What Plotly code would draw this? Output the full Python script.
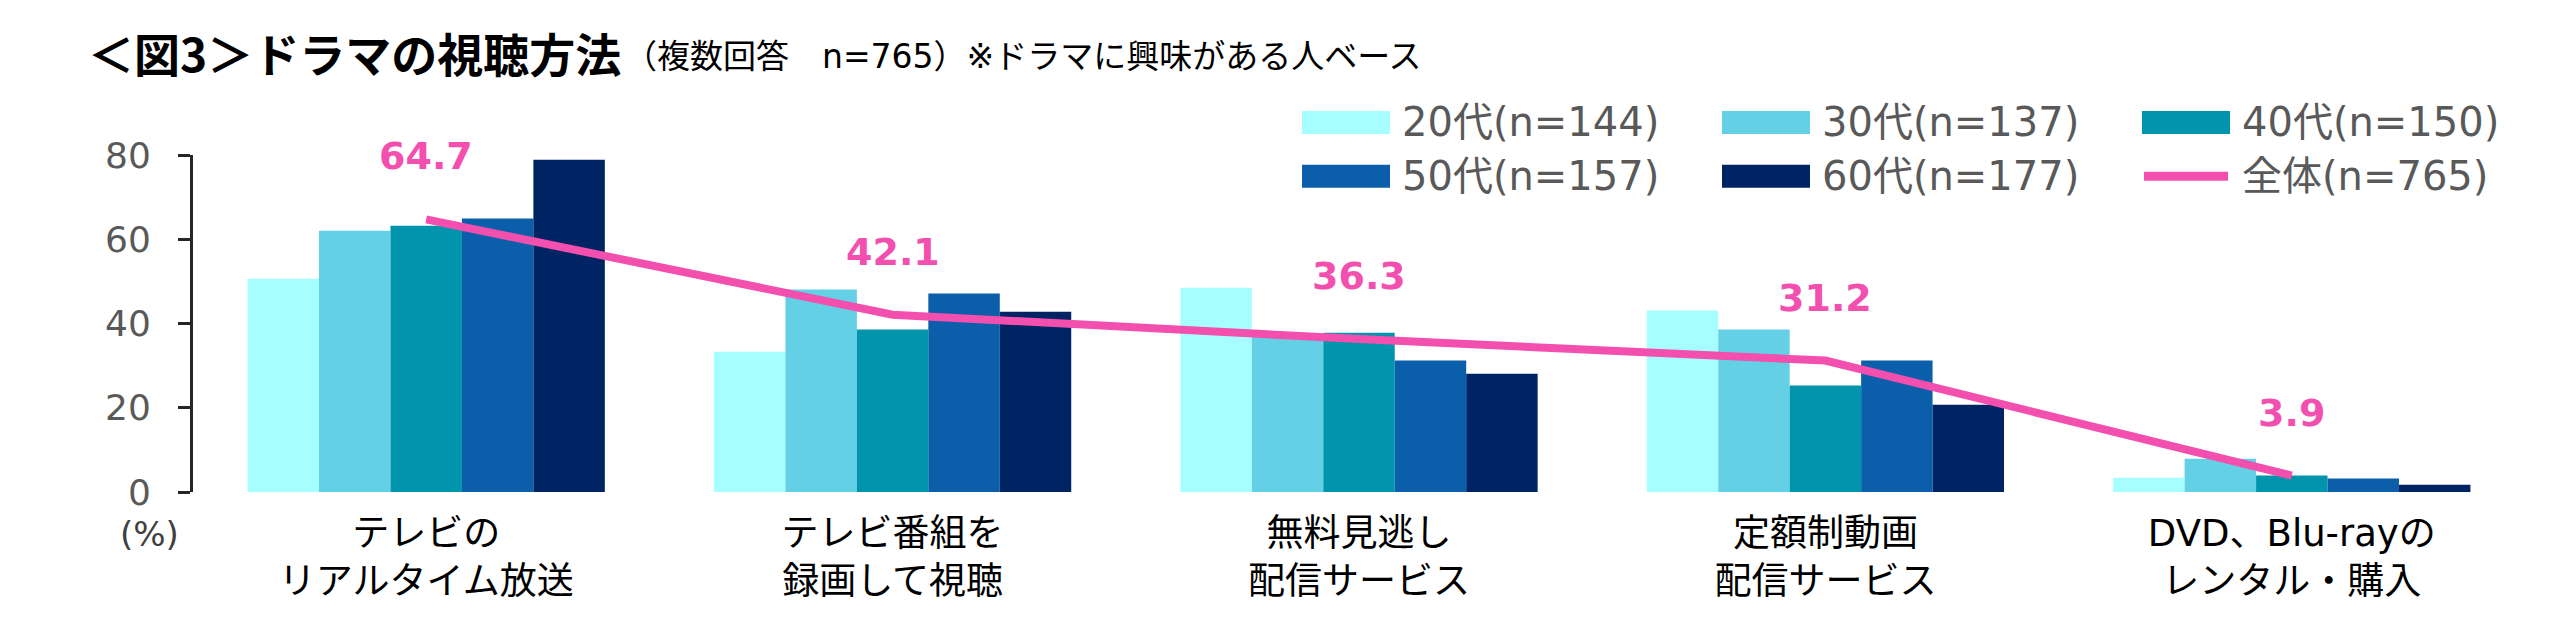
import plotly.graph_objects as go

# ---------------- data ----------------
categories = [
    "テレビの<br>リアルタイム放送",
    "テレビ番組を<br>録画して視聴",
    "無料見逃し<br>配信サービス",
    "定額制動画<br>配信サービス",
    "DVD、Blu-rayの<br>レンタル・購入",
]
series_names = ["20代(n=144)", "30代(n=137)", "40代(n=150)", "50代(n=157)", "60代(n=177)"]
age20 = [50.6, 33.3, 48.5, 43.1, 3.4]
age30 = [62.0, 48.1, 36.8, 38.6, 7.9]
age40 = [63.2, 38.6, 37.8, 25.3, 3.9]
age50 = [64.9, 47.1, 31.2, 31.2, 3.2]
age60 = [78.9, 42.8, 28.1, 20.7, 1.7]
total_name = "全体(n=765)"
total = [64.7, 42.1, 36.3, 31.2, 3.9]
y_ticks = [0, 20, 40, 60, 80]

series_values = [age20, age30, age40, age50, age60]
colors = ["#A6FFFE", "#64D0E6", "#0095AC", "#0B5FAA", "#002463"]
pink = "#F24FAF"

# ---------------- geometry ----------------
# the page body has an 8px margin, so the figure origin sits at (8, 8) on the page
OFF = 8
W, H = 2560 - OFF, 644 - OFF
L, R, T, B = 185, 35, 147, 152
PW, PH = W - L - R, H - T - B


def px(xp):
    """page x pixel -> paper x"""
    return (xp - OFF - L) / PW


def py(yp):
    """page y pixel (from top) -> paper y"""
    return (H - B - (yp - OFF)) / PH


LATIN_CJK = "DejaVu Sans, Noto Sans CJK JP, sans-serif"
CJK = "Noto Sans CJK JP, sans-serif"

fig = go.Figure()
for name, vals, c in zip(series_names, series_values, colors):
    fig.add_trace(go.Bar(x=categories, y=vals, name=name, marker=dict(color=c, line=dict(width=0)),
                         showlegend=False, hoverinfo="y"))

fig.add_trace(go.Scatter(x=categories, y=total, name=total_name, mode="lines",
                         line=dict(color=pink, width=8), showlegend=False))

annotations = []
for cat, v in zip(categories, total):
    annotations.append(dict(x=cat, y=v, xref="x", yref="y", text=f"{v}", showarrow=False,
                            yshift=63, xanchor="center", yanchor="middle",
                            font=dict(family="DejaVu Sans, sans-serif", size=38, color=pink, weight="bold")))

# title and subtitle
annotations.append(dict(x=px(86), y=py(52), xref="paper", yref="paper", xanchor="left", yanchor="middle",
                        text="<b>＜図3＞ドラマの視聴方法</b>", showarrow=False,
                        font=dict(family=CJK, size=46, color="#000000")))
annotations.append(dict(x=px(622), y=py(57), xref="paper", yref="paper", xanchor="left", yanchor="middle",
                        text="（複数回答　n=765）※ドラマに興味がある人ベース", showarrow=False,
                        font=dict(family=LATIN_CJK, size=33, color="#000000")))
# (%) unit label
annotations.append(dict(x=px(149), y=py(534), xref="paper", yref="paper", xanchor="center", yanchor="middle",
                        text="(%)", showarrow=False, font=dict(family=LATIN_CJK, size=34, color="#404040")))

# custom legend
shapes = []
col_x = [1302, 1722, 2142]
row_y = [122.5, 176.3]
legend_items = [(n, c, "bar") for n, c in zip(series_names, colors)] + [(total_name, pink, "line")]
for i, (name, c, kind) in enumerate(legend_items):
    cx = col_x[i % 3]
    cy = row_y[i // 3]
    if kind == "bar":
        shapes.append(dict(type="rect", xref="paper", yref="paper", x0=px(cx), x1=px(cx + 88),
                           y0=py(cy + 11.5), y1=py(cy - 11.5), fillcolor=c, line=dict(width=0), layer="above"))
    else:
        shapes.append(dict(type="line", xref="paper", yref="paper", x0=px(cx + 2), x1=px(cx + 86),
                           y0=py(cy), y1=py(cy), line=dict(color=c, width=9), layer="above"))
    annotations.append(dict(x=px(cx + 98), y=py(cy), xref="paper", yref="paper", xanchor="left",
                            yanchor="middle", text=name, showarrow=False,
                            font=dict(family=LATIN_CJK, size=40, color="#595959")))

fig.update_layout(
    width=W, height=H,
    margin=dict(l=L, r=R, t=T, b=B, pad=0),
    paper_bgcolor="white", plot_bgcolor="white",
    barmode="group", bargap=0.234, bargroupgap=0,
    annotations=annotations, shapes=shapes,
    showlegend=False,
)
fig.update_xaxes(showline=False, ticks="", showgrid=False, zeroline=False,
                 tickfont=dict(family=LATIN_CJK, size=37, color="#000000"),
                 ticklabelstandoff=16)
fig.update_yaxes(range=[0, 80], tickvals=y_ticks, showgrid=False, zeroline=False,
                 showline=True, linecolor="#262626", linewidth=3,
                 ticks="outside", ticklen=12, tickwidth=3, tickcolor="#262626",
                 tickfont=dict(family="DejaVu Sans, sans-serif", size=36, color="#595959"),
                 ticklabelstandoff=20)

fig.write_html("out.html")
